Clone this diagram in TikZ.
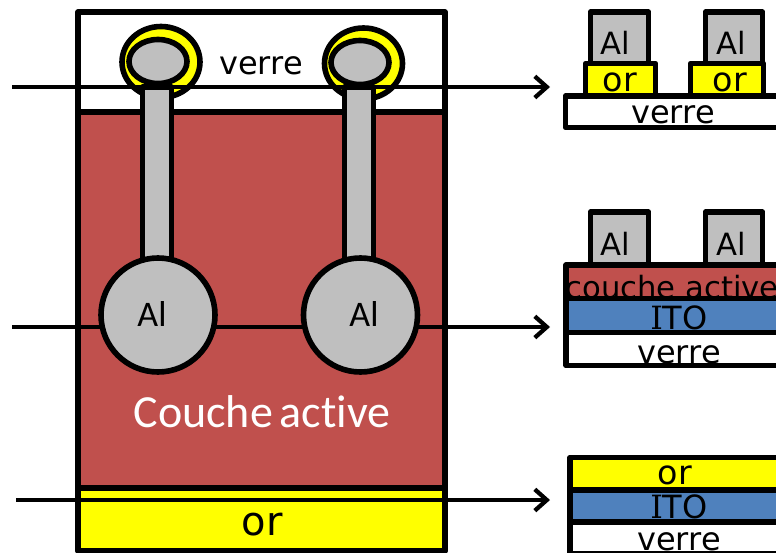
\documentclass[tikz,border=0pt]{standalone}
\usepackage{fontspec}
\usepackage{xcolor}
\setmainfont{DejaVu Sans}
\newfontfamily\calibfont[Ligatures=NoCommon]{Carlito}
\newfontfamily\slabfont{DejaVu Serif}
\usetikzlibrary{calc, arrows.meta}

\definecolor{rouge}{RGB}{192,80,77}
\definecolor{bleu}{RGB}{79,129,189}
\definecolor{gris}{RGB}{191,191,191}
\definecolor{jaune}{RGB}{255,255,0}

\tikzset{
    couche/.style={draw=black, line width=4.2pt, line join=round},
    fleche/.style={line width=2.9pt, -{Straight Barb[length=9pt, width=16pt, line width=3.2pt]}},
    petit/.style={font=\fontsize{24}{24}\selectfont, inner sep=0pt},
    moyen/.style={font=\fontsize{23}{23}\selectfont, inner sep=0pt},
}

\begin{document}
\begin{tikzpicture}[x=0.75pt, y=-0.75pt]
    \useasboundingbox (0,0) rectangle (776,553);
    \clip (0,0) rectangle (776,553);

    % Vue de dessus
    \filldraw[couche, fill=white] (78,12) rectangle (445,112);
    \filldraw[couche, fill=rouge] (78,112) rectangle (445,488);
    \filldraw[couche, fill=jaune] (78,488) rectangle (445,551);
    \node[petit] (verreHaut) at (261,66) {verre};
    \node[inner sep=0pt, font=\calibfont\fontsize{34.5}{34.5}\selectfont, text=white] (active) at (262,412) {Couche\hspace{-0.08em} active};
    \node[inner sep=0pt, font=\fontsize{30}{30}\selectfont] (orBas) at (262,525) {or};

    % Anneaux en or
    \filldraw[couche, fill=jaune] (161,62) ellipse (39 and 35.5);
    \filldraw[couche, fill=jaune] (363.5,63.5) ellipse (39 and 35.5);

    % Fleches
    \coordinate (departA) at (12,87);
    \coordinate (finA) at (550,87);
    \coordinate (departB) at (12,327);
    \coordinate (finB) at (550,327);
    \coordinate (departC) at (16,500);
    \coordinate (finC) at (550,500);
    \draw[fleche] (departA) -- (finA);
    \draw[fleche] (departB) -- (finB);
    \draw[fleche] (departC) -- (finC);

    % Electrodes Al
    \foreach \x/\t/\c/\n in {157/152/158/gauche, 359/364/360.5/droite} {
        \filldraw[couche, fill=gris] (\x-14.5,87) rectangle (\x+14.5,262);
        \filldraw[couche, fill=gris] (\c,315) circle (57);
        \node[inner sep=0pt, font=\calibfont\fontsize{27}{27}\selectfont] (al\n) at (\t,314) {Al};
    }
    \filldraw[couche, fill=gris] (158,61.5) ellipse (29 and 22);
    \filldraw[couche, fill=gris] (360,62.5) ellipse (29 and 22);

    % Coupe 1
    \filldraw[couche, fill=white] (565.5,96) rectangle (800,127.5);
    \foreach \a/\b/\c/\d/\n in {585.5/655.5/590.5/648.5/a, 690.5/763.5/705.5/762.5/b} {
        \filldraw[couche, fill=jaune] (\a,63.5) rectangle (\b,96);
        \filldraw[couche, fill=gris] (\c,12) rectangle (\d,63.5);
    }
    \node[moyen] (alUn) at (615,43) {Al};
    \node[moyen] (alDeux) at (731,43) {Al};
    \node[petit, font=\fontsize{25}{25}\selectfont] (orUn) at (620,82) {or};
    \node[petit, font=\fontsize{25}{25}\selectfont] (orDeux) at (730,82) {or};
    \node[petit] (verreUn) at (673,115) {verre};

    % Coupe 2
    \foreach \c/\d in {590.5/648.5, 705.5/762.5} {
        \filldraw[couche, fill=gris] (\c,212) rectangle (\d,265);
    }
    \node[moyen] (alTrois) at (615,244) {Al};
    \node[moyen] (alQuatre) at (731,244) {Al};
    \fill[rouge] (566,265) rectangle (800,298.5);
    \fill[bleu] (566,298.5) rectangle (800,332.5);
    \node[moyen] (coucheDeux) at (672,287) {couche active};
    \node[petit] (itoDeux) at (679,318) {{\slabfont I}TO};
    \node[petit] (verreDeux) at (679,355) {verre};
    \draw[couche] (566,298.5) -- (800,298.5);
    \draw[couche] (566,332.5) -- (800,332.5);
    \draw[couche] (800,265) -- (566,265) -- (566,365.5) -- (800,365.5);

    % Coupe 3
    \fill[jaune] (570,457.5) rectangle (800,490);
    \fill[bleu] (570,490) rectangle (800,522);
    \node[petit, font=\fontsize{25}{25}\selectfont] (orTrois) at (675,475) {or};
    \node[petit] (itoTrois) at (679,507) {{\slabfont I}TO};
    \node[petit] (verreTrois) at (679,542) {verre};
    \draw[couche] (570,490) -- (800,490);
    \draw[couche] (570,522) -- (800,522);
    \draw[couche] (800,457.5) -- (570,457.5) -- (570,553.5) -- (800,553.5);
\end{tikzpicture}
\end{document}
